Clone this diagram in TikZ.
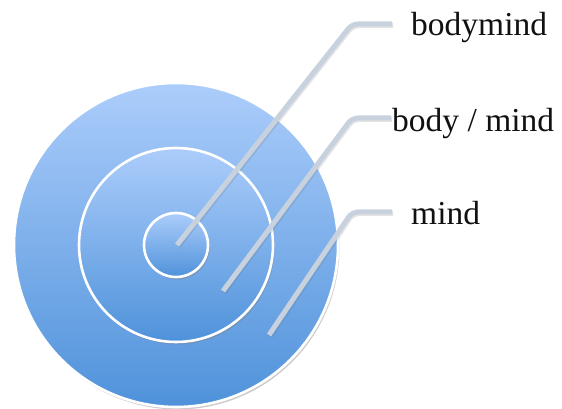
\documentclass[tikz,border=0pt]{standalone}
\usepackage{fontspec}
\setmainfont{Liberation Serif}
\usepackage{tikz}
\usetikzlibrary{positioning, calc, shadows}
\usepackage{xcolor}
\definecolor{cTop}{HTML}{ACCDFB}
\definecolor{cBottom}{HTML}{4F92DA}
\definecolor{cCallout}{HTML}{C8D2DF}
\definecolor{cText}{HTML}{111111}
\tikzset{
  ring/.style={
    circle, draw=white, line width=2.6pt,
    top color=cTop, bottom color=cBottom,
    minimum size=#1, inner sep=0pt,
    drop shadow={opacity=0.4, shadow xshift=1.5pt, shadow yshift=-2.5pt},
  },
  callout/.style={
    draw=cCallout, line width=5pt, rounded corners=6pt,
    preaction={draw=black!60, opacity=0.18, line width=5pt,
      transform canvas={xshift=1pt, yshift=-1.5pt}},
  },
  lbl/.style={
    font=\fontsize{33.5}{40}\selectfont, text=cText,
    inner sep=0pt, anchor=base west,
  },
}

\begin{document}
\begin{tikzpicture}[x=1pt, y=1pt]
  \useasboundingbox (0,0) rectangle (562,409);

  % Concentric rings
  \node[ring=324pt] (outer) at (176,164) {};
  \node[ring=194pt] (middle) at (176,164) {};
  \node[ring=64pt] (inner) at (176,164) {};

  % Labels
  \node[lbl] (bodymind) at (411,373) {bodymind};
  \node[lbl] (bodyslash) at (392,277) {body / mind};
  \node[lbl] (mind) at (411,184) {mind};

  % Callout tips and knees
  \coordinate (tipA) at (177,164);
  \coordinate (kneeA) at (352,385);
  \coordinate (tipB) at (223,118);
  \coordinate (kneeB) at (352,291);
  \coordinate (tipC) at (269,74);
  \coordinate (kneeC) at (352,197);

  % Callout lines
  \draw[callout] (tipA) -- (kneeA) -- ($(kneeA -| bodymind.west)+(-19,0)$);
  \draw[callout] (tipB) -- (kneeB) -- ($(kneeB -| bodyslash.west)+(-1,0)$);
  \draw[callout] (tipC) -- (kneeC) -- ($(kneeC -| mind.west)+(-19,0)$);

\end{tikzpicture}
\end{document}
